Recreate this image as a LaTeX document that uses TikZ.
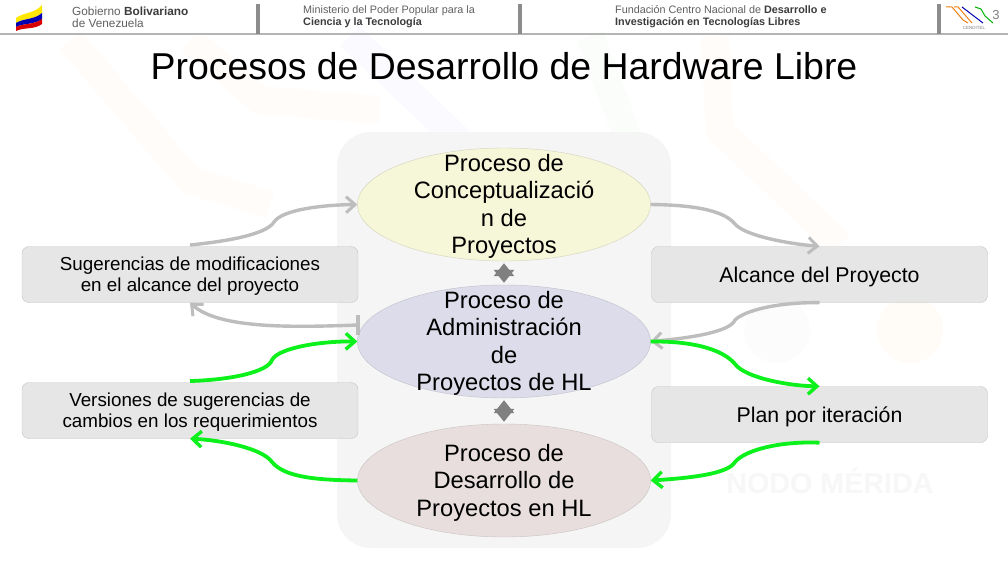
\documentclass[tikz,border=0pt]{standalone}
\usepackage{fontspec}
\setmainfont{Liberation Sans}
\usetikzlibrary{arrows.meta,shapes.geometric}
\definecolor{barcol}{HTML}{8C8C8C}
\definecolor{rulecol}{HTML}{B4B4B4}
\definecolor{hdrtxt}{HTML}{606060}
\definecolor{hdrbold}{HTML}{3C3C3C}
\definecolor{boxfill}{HTML}{E6E6E6}
\definecolor{boxline}{HTML}{C4C4C4}
\definecolor{conngray}{HTML}{BDBDBD}
\definecolor{conngreen}{HTML}{0CF01C}
\definecolor{concfill}{HTML}{F6F6D8}
\definecolor{adminfill}{HTML}{DCDCEA}
\definecolor{desafill}{HTML}{E9DEDE}
\tikzset{
  proctext/.style={align=center,inner sep=0pt,yshift=-2pt,font=\fontsize{23.7}{27.4}\selectfont},
  procnode/.style={ellipse,draw=#1!70!gray,fill=#1,minimum width=293pt,minimum height=113pt,inner sep=0pt},
  infobox/.style={rectangle,rounded corners=7pt,draw=boxline,fill=boxfill,minimum width=336pt,minimum height=56pt,inner sep=0pt},
  boxtext/.style={align=center,inner sep=0pt,yshift=-2pt,font=\fontsize{18.8}{21}\selectfont},
  boxtextbig/.style={boxtext,yshift=0pt,font=\fontsize{21.3}{24}\selectfont},
  hdrtext/.style={anchor=west,align=left,inner sep=0pt,text=hdrtxt,font=\fontsize{10.8}{12.2}\selectfont},
  grayline/.style={draw=conngray,line width=3.4pt},
  grayconn/.style={grayline,-{Straight Barb[length=9pt,width=16pt,line width=3pt]}},
  greenconn/.style={draw=conngreen,line width=3.8pt,-{Straight Barb[length=9pt,width=16pt,line width=3.4pt]}},
  linkarrow/.style={draw=#1,line width=3pt,shorten <=2pt,shorten >=2pt,{Triangle[length=13pt,width=20pt]}-{Triangle[length=13pt,width=20pt]}},
  hdrbar/.style={fill=barcol,draw=none},
  streak/.style={draw=#1,opacity=.02,line width=28pt,line join=round},
}
\begin{document}
\begin{tikzpicture}[x=1pt,y=-1pt]
\useasboundingbox (0,0) rectangle (1008,567);
\fill[white] (0,0) rectangle (1008,567);
% faint background marks
\draw[streak=orange] (70,40) -- (190,180) -- (270,205);
\draw[streak=orange] (190,40) -- (260,100) -- (380,110);
\draw[streak=blue] (350,36) -- (480,160);
\draw[streak=green!60!black] (590,36) -- (625,130) -- (640,240);
\draw[streak=orange] (715,36) -- (720,130) -- (840,245);
\fill[green!30!gray,opacity=.025] (777,330) circle (33);
\fill[orange,opacity=.03] (910,330) circle (33);
\node[inner sep=0pt,text=black!3,font=\bfseries\fontsize{28.7}{30}\selectfont] (wm) at (830,481) {NODO MÉRIDA};
% panel behind the ellipses
\fill[black!4,rounded corners=34pt] (337,132) rectangle (671,548);
% header
\fill[rulecol] (0,33) rectangle (1008,35.5);
\fill[hdrbar] (256,4) rectangle (259.5,34);
\fill[hdrbar] (518,4) rectangle (521.5,34);
\fill[hdrbar] (937,4) rectangle (941,34);
\node[hdrtext,font=\fontsize{11.8}{12.4}\selectfont] (h1) at (72,17) {Gobierno \textcolor{hdrbold}{\bfseries Bolivariano}\\de Venezuela};
\node[hdrtext] (h2) at (303,17) {Ministerio del Poder Popular para la\\\textcolor{hdrbold}{\bfseries Ciencia y la Tecnología}};
\node[hdrtext] (h3) at (615,17) {Fundación Centro Nacional de \textcolor{hdrbold}{\bfseries Desarrollo e}\\\textcolor{hdrbold}{\bfseries Investigación en Tecnologías Libres}};
\node[inner sep=0pt,text=gray,font=\fontsize{13}{13}\selectfont] (pg) at (996,15) {3};
% flag
\fill[yellow!90!orange] (16,18) .. controls (24,12) and (34,14) .. (42,5) -- (42,13) .. controls (34,20) and (24,18) .. (16,23) -- cycle;
\fill[blue!70!black] (16,23) .. controls (24,18) and (34,20) .. (42,13) -- (42,19) .. controls (34,25) and (24,23) .. (16,27) -- cycle;
\fill[red!85!black] (16,27) .. controls (24,23) and (34,25) .. (42,19) -- (42,24) .. controls (34,30) and (24,27) .. (16,31) -- cycle;
% logo
\draw[orange!70!brown,line width=1pt] (946,7) -- (952,7) -- (963,20) -- (968,23);
\draw[orange!70!brown,line width=1pt] (954,7) -- (958,7) -- (972,23);
\draw[blue!70!black,line width=1pt] (962,7) -- (983,23);
\draw[green!70!black,line width=1pt] (975,7) -- (981,9) -- (985,16) -- (993,23);
\node[inner sep=0pt,text=gray,font=\fontsize{4.5}{5}\selectfont] (lg) at (974,28) {CENDITEL};
% title
\node[inner sep=0pt,font=\fontsize{37.4}{40}\selectfont] (title) at (504,66) {Procesos de Desarrollo de Hardware Libre};
% ellipses
\node[procnode=concfill,label={[proctext]center:Proceso de\\Conceptualizació\\n de\\Proyectos}] (conc) at (504,204.5) {};
\node[procnode=adminfill,label={[proctext]center:Proceso de\\Administración\\de\\Proyectos de HL}] (admin) at (504,341.5) {};
\node[procnode=desafill,label={[proctext]center:Proceso de\\Desarrollo de\\Proyectos en HL}] (desa) at (504,480.5) {};
% boxes
\node[infobox,label={[boxtext]center:Sugerencias de modificaciones\\en el alcance del proyecto}] (sug) at (190,274.5) {};
\node[infobox,label={[boxtext]center:Versiones de sugerencias de\\cambios en los requerimientos}] (ver) at (190,410.5) {};
\node[infobox,label={[boxtextbig]center:Alcance del Proyecto}] (alc) at (819.5,274.5) {};
\node[infobox,label={[boxtextbig]center:Plan por iteración}] (plan) at (819.5,414.5) {};
% links between the ellipses
\draw[linkarrow=black!50] (conc.south) -- (admin.north);
\draw[linkarrow=black!50] (admin.south) -- (desa.north);
% gray connectors
\coordinate (g1a) at (190,245);
\coordinate (g2t) at (358,315);
\coordinate (g2b) at (358,335);
\coordinate (g2m) at (358,325);
\draw[grayconn] (g1a) .. controls (240,240) and (268,232) .. (274,222) .. controls (282,210) and (320,205) .. (conc.west);
\draw[grayconn] (conc.east) .. controls (700,205) and (725,212) .. (735,224) .. controls (745,236) and (790,244) .. (alc.north);
\draw[grayconn] (alc.south) .. controls (780,302) and (745,310) .. (735,320) .. controls (730,332) and (690,338) .. (admin.east);
\draw[grayline] (g2t) -- (g2b);
\draw[grayconn] (g2m) .. controls (300,327) and (220,330) .. (sug.south);
% green connectors
\coordinate (g2a) at (190,381);
\draw[greenconn] (g2a) .. controls (230,380) and (268,372) .. (272,360) .. controls (278,348) and (320,341) .. (admin.west);
\draw[greenconn] (admin.east) .. controls (700,341) and (725,352) .. (735,364) .. controls (745,378) and (790,386) .. (plan.north);
\draw[greenconn] (plan.south) .. controls (780,441) and (745,450) .. (735,462) .. controls (728,474) and (690,478) .. (desa.east);
\draw[greenconn] (desa.west) .. controls (320,480) and (285,478) .. (272,462) .. controls (262,448) and (220,440) .. (ver.south);
\end{tikzpicture}
\end{document}
